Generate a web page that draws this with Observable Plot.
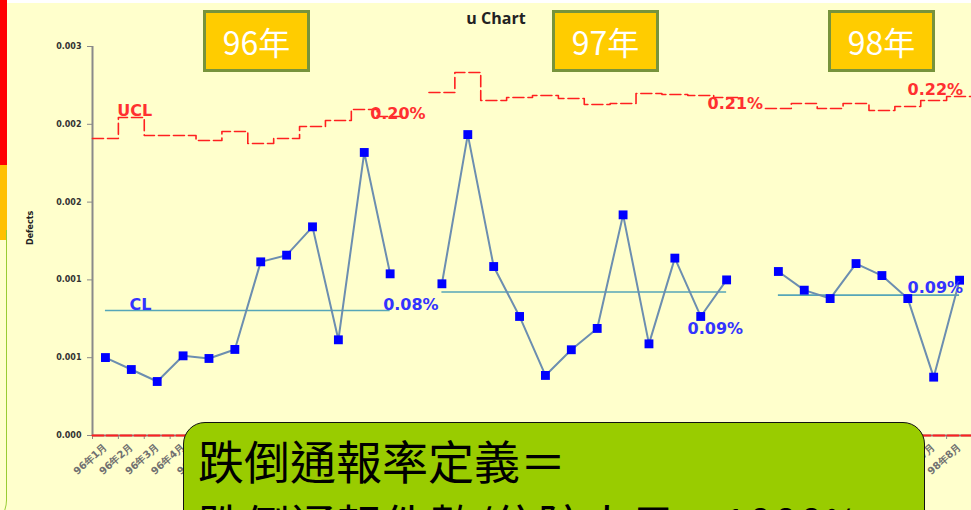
<!DOCTYPE html>
<html><head><meta charset="utf-8">
<script src="https://cdn.jsdelivr.net/npm/d3@7"></script>
<script src="https://cdn.jsdelivr.net/npm/@observablehq/plot@0.6"></script>
<style>
html,body{margin:0;padding:0;background:#FFFFCC;}
#wrap{position:relative;width:971px;height:510px;overflow:hidden;background:#FFFFCC;}
#chart{position:absolute;left:0;top:0;}
.topstrip{position:absolute;left:0;top:0;width:971px;height:3px;background:#fff;}
.redbar{position:absolute;left:0;top:0;width:7px;height:165px;background:#FF0000;}
.yelbar{position:absolute;left:0;top:165px;width:7px;height:75px;background:#FFC000;}
.greenline{position:absolute;left:-30px;top:230px;width:36px;height:300px;border-right:1.5px solid #99CC33;border-bottom-right-radius:30px;}
.ybox{position:absolute;top:10px;width:107px;height:62px;box-sizing:border-box;background:#FFCC00;border:3px solid #77933C;color:#fff;font:32px "Noto Sans CJK TC","Noto Sans",sans-serif;display:flex;align-items:center;justify-content:center;}
.title{position:absolute;left:436px;width:120px;top:7px;text-align:center;font:bold 16px "Open Sans","Liberation Sans",sans-serif;color:#222;}
.note{position:absolute;left:183px;top:422px;width:742px;height:140px;box-sizing:border-box;background:#99CC00;border:1.5px solid #111;border-radius:22px;padding:4px 0 0 14px;font:46px/64px "Noto Sans CJK TC",sans-serif;color:#000;white-space:nowrap;}
</style></head><body>
<div id="wrap">
<div id="chart"></div>
<div class="topstrip"></div>
<div class="redbar"></div><div class="yelbar"></div><div class="greenline"></div>
<div class="title">u Chart</div>
<div id="boxes"></div>
<div class="note">跌倒通報率定義＝<br>跌倒通報件數/住院人日×1000‰</div>
</div>
<script>
// ---- data ----
const monthLabels = [
  "96年1月","96年2月","96年3月","96年4月","96年5月","96年6月","96年7月","96年8月","96年9月","96年10月","96年11月","96年12月","",
  "97年1月","97年2月","97年3月","97年4月","97年5月","97年6月","97年7月","97年8月","97年9月","97年10月","97年11月","97年12月","",
  "98年1月","98年2月","98年3月","98年4月","98年5月","98年6月","98年7月","98年8月"
];
const yearNames = ["96年","97年","98年"];
const yearStart = [0, 13, 26];
const u96 = [0.000501,0.000424,0.000347,0.000512,0.000495,0.000553,0.001116,0.001159,0.001341,0.000615,0.001819,0.001039];
const u97 = [0.000975,0.001934,0.001086,0.000765,0.000386,0.000551,0.000688,0.001418,0.000589,0.00114,0.000765,0.001000];
const u98 = [0.001054,0.000934,0.00088,0.001105,0.001028,0.00088,0.000375,0.000998];
const ucl96 = [0.001909,0.002044,0.001928,0.001928,0.001896,0.001954,0.001877,0.001909,0.001986,0.002024,0.002095,0.00205];
const ucl97 = [0.002204,0.002333,0.002153,0.002172,0.002185,0.002166,0.002127,0.002134,0.002198,0.002192,0.002185,0.002172];
const ucl98 = [0.002102,0.002134,0.002102,0.002134,0.002089,0.002114,0.002153,0.002179];
const clValues = [0.000803, 0.000922, 0.000902];
const uclLabels = ["0.20%","0.21%","0.22%"];
const clLabels = ["0.08%","0.09%","0.09%"];
const yTicks = [0, 0.0005, 0.001, 0.0015, 0.002, 0.0025];
const yTickLabels = ["0.000","0.001","0.001","0.002","0.002","0.003"];

// ---- build tables ----
const uSeries = [u96, u97, u98];
const uclSeries = [ucl96, ucl97, ucl98];
const pts = [], ucl = [], lcl = [], clRows = [];
uSeries.forEach((arr, k) => {
  arr.forEach((v, j) => pts.push({year: yearNames[k], i: yearStart[k] + j, v}));
  const u = uclSeries[k];
  u.forEach((v, j) => { ucl.push({year: yearNames[k], x: yearStart[k] + j - 0.5, v}); lcl.push({year: yearNames[k], x: yearStart[k] + j - 0.5, v: 0}); });
  const last = yearStart[k] + u.length - 1;
  ucl.push({year: yearNames[k], x: last + 0.5, v: u[u.length - 1]});
  lcl.push({year: yearNames[k], x: last + 0.5, v: 0});
  clRows.push({year: yearNames[k], x1: yearStart[k], x2: yearStart[k] + arr.length - 1, v: clValues[k]});
});
const lastIdx = k => yearStart[k] + uSeries[k].length - 1;
const boundaries = d3.range(35).map(i => i - 0.5);

const labFont = {fontFamily: "DejaVu Sans", fontWeight: "bold", fontSize: 15, textAnchor: "start"};
const uclOff = [[-20, -3], [-19, 6], [-52, -7]];
const clOff = [[-7, -6], [-39, 37], [-52, -7]];
const limitLabels = [];
uclLabels.forEach((t, k) => limitLabels.push(Plot.text([t], {x: lastIdx(k), y: uclSeries[k][uclSeries[k].length - 1],
  dx: uclOff[k][0], dy: uclOff[k][1], fill: "#FF3030", ...labFont, fontSize: 16, style: "letter-spacing:0.6px"})));
clLabels.forEach((t, k) => limitLabels.push(Plot.text([t], {x: lastIdx(k), y: clValues[k],
  dx: clOff[k][0], dy: clOff[k][1], fill: "#3333FF", ...labFont, fontSize: 16, style: "letter-spacing:0.6px"})));

const chart = Plot.plot({
  width: 971, height: 510,
  marginLeft: 92, marginRight: 0, marginTop: 46, marginBottom: 75,
  style: {background: "transparent", overflow: "visible", fontFamily: "DejaVu Sans"},
  x: {type: "linear", domain: [-0.5, 33.5], range: [92, 972], axis: null, label: null},
  y: {domain: [0, 0.0025], range: [435, 46], axis: null, label: null},
  marks: [
    // axes lines
    Plot.ruleX([-0.5], {y1: 0, y2: 0.0025, stroke: "#8a8a8a", strokeWidth: 2}),
    Plot.ruleY([0], {x1: -0.5, x2: 33.5, stroke: "#8a8a8a", strokeWidth: 2}),
    Plot.axisY(yTicks, {label: null, tickSize: 5, tickPadding: 6, stroke: "#8a8a8a", tickFormat: (d, i) => yTickLabels[i],
      fill: "#333", fontSize: 8, fontWeight: "bold", style: "letter-spacing:1.3px"}),
    Plot.axisX(boundaries, {label: null, tickSize: 4, stroke: "#8a8a8a", tickFormat: () => ""}),
    Plot.axisX(d3.range(34), {label: null, tickSize: 0, tickPadding: 10, tickRotate: -42, tickFormat: i => monthLabels[i],
      fill: "#707070", fontSize: 10, fontWeight: "bold"}),
    Plot.text(["Defects"], {frameAnchor: "left", dx: -62, dy: 4, rotate: -90, fontSize: 8, fontWeight: "bold", fill: "#222"}),
    // control limits
    Plot.line(lcl, {x: "x", y: "v", z: "year", curve: "step-after", stroke: "#FF2020", strokeWidth: 2, strokeDasharray: "11,3"}),
    Plot.line(ucl, {x: "x", y: "v", z: "year", curve: "step-after", stroke: "#FF2020", strokeWidth: 1.6, strokeDasharray: "11,4"}),
    Plot.ruleY(clRows, {x1: "x1", x2: "x2", y: "v", stroke: "#56A6B8", strokeWidth: 1.6}),
    // data
    Plot.line(pts, {x: "i", y: "v", z: "year", stroke: "#6C8EB0", strokeWidth: 2}),
    Plot.dot(pts, {x: "i", y: "v", symbol: "square", r: 5, fill: "#0000FF", stroke: "none"}),
    // labels
    Plot.text(["UCL"], {x: 1, y: ucl96[1], dx: -14, dy: -7, fill: "#FF3030", ...labFont, fontSize: 16}),
    Plot.text(["CL"], {x: 0, y: clValues[0], dx: 24, dy: -6, fill: "#3333FF", ...labFont, fontSize: 16}),
    ...limitLabels
  ]
});
document.getElementById("chart").appendChild(chart);

// year boxes
const boxLeft = [203, 552, 828];
const boxes = document.getElementById("boxes");
yearNames.forEach((y, k) => {
  const b = document.createElement("div");
  b.className = "ybox"; b.style.left = boxLeft[k] + "px"; b.textContent = y;
  boxes.appendChild(b);
});
</script>
</body></html>
